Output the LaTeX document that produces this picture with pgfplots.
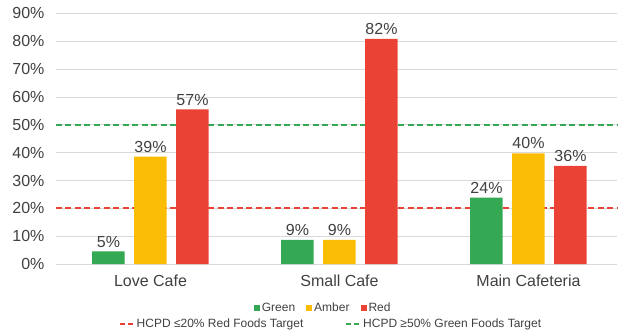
\documentclass[border=0pt]{standalone}
\usepackage{fontspec}
\setmainfont{Liberation Sans}
\usepackage{pgfplots}
\usepackage{pgfplotstable}
\pgfplotsset{compat=1.18}
\definecolor{cgreen}{HTML}{34A853}
\definecolor{camber}{HTML}{FBBC04}
\definecolor{cred}{HTML}{EA4335}
\definecolor{tgray}{HTML}{404040}
\definecolor{gridgray}{HTML}{D9D9D9}
\pgfplotsset{
  sqlegend/.style={legend image code/.code={\fill[#1] (0pt,-3pt) rectangle (6pt,3pt);}},
  dashlegend/.style={legend image code/.code={\draw[##1] (0pt,0pt) -- (14pt,0pt);}},
}
\pgfplotstableread{
x g a r gl al rl
0 4.6 38.6 55.5 5 39 57
1 8.7 8.7 80.8 9 9 82
2 23.9 39.8 35.3 24 40 36
}\data
\begin{document}
\begin{tikzpicture}
\useasboundingbox (-56pt,-70.7pt) rectangle (562pt,264.2pt);
\begin{axis}[
  scale only axis, width=561.3pt, height=250.9pt,
  xmin=-0.5, xmax=2.47, ymin=0, ymax=90,
  xtick={0,1,2}, xticklabels={Love Cafe,Small Cafe,Main Cafeteria},
  ytick={0,10,...,90},
  yticklabel={\pgfmathprintnumber[assume math mode=true]{\tick}\%},
  ymajorgrids, grid style={draw=gridgray, line width=0.8pt},
  axis line style={draw=none}, major tick length=0pt,
  tick label style={font=\fontsize{16}{19}\selectfont, text=tgray},
  yticklabel style={xshift=-8pt},
  xticklabel style={yshift=-7pt},
  clip=false, no markers,
  legend style={at={(0.476,-0.173)}, anchor=center, draw=none, fill=none,
    font=\fontsize{12}{14}\selectfont, text=tgray, legend columns=-1,
    /tikz/every even column/.append style={column sep=9pt}, inner sep=0pt},
  legend cell align=left,
]
\addplot[forget plot, cred, line width=2pt, dash pattern=on 6pt off 3.5pt] coordinates {(-0.5,20) (2.47,20)};
\addplot[forget plot, cgreen, line width=2pt, dash pattern=on 6pt off 3.5pt] coordinates {(-0.5,50) (2.47,50)};
\pgfplotsset{
  lbl/.style={point meta=explicit,
    nodes near coords={\pgfmathprintnumber[assume math mode=true]{\pgfplotspointmeta}\%},
    every node near coord/.append style={font=\fontsize{16}{19}\selectfont, text=tgray, anchor=south, inner sep=2pt, yshift=2pt, xshift=#1}},
}
\addplot[ybar, bar width=32.5pt, bar shift=-42pt, fill=cgreen, draw=none, lbl=-42pt, sqlegend=cgreen] table[x=x, y=g, meta=gl] {\data};
\addlegendentry{Green}
\addplot[ybar, bar width=32.5pt, bar shift=0pt, fill=camber, draw=none, lbl=0pt, sqlegend=camber] table[x=x, y=a, meta=al] {\data};
\addlegendentry{Amber}
\addplot[ybar, bar width=32.5pt, bar shift=42pt, fill=cred, draw=none, lbl=42pt, sqlegend=cred] table[x=x, y=r, meta=rl] {\data};
\addlegendentry{Red}
\end{axis}
\begin{axis}[
  scale only axis, width=561.3pt, height=250.9pt, hide axis,
  xmin=0, xmax=1, ymin=0, ymax=1,
  legend style={at={(0.490,-0.238)}, anchor=center, draw=none, fill=none,
    font=\fontsize{12}{14}\selectfont, text=tgray, legend columns=2,
    /tikz/every even column/.append style={column sep=40pt}, inner sep=0pt},
  legend cell align=left,
]
\addlegendimage{dashlegend, cred, line width=1.8pt, dash pattern=on 5pt off 3pt}
\addlegendentry{HCPD ≤20\% Red Foods Target}
\addlegendimage{dashlegend, cgreen, line width=1.8pt, dash pattern=on 5pt off 3pt}
\addlegendentry{HCPD ≥50\% Green Foods Target}
\end{axis}
\end{tikzpicture}
\end{document}
